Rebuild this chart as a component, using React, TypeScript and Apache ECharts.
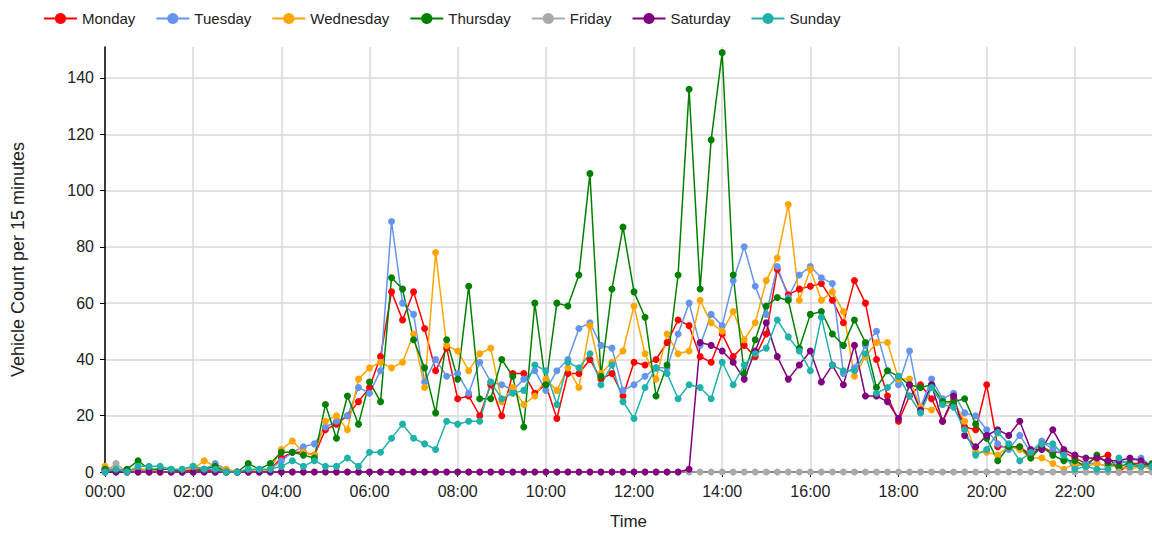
import React, { useEffect, useRef } from "react";
import * as echarts from "echarts";

const times = [
  "00:00","00:15","00:30","00:45","01:00","01:15","01:30","01:45",
  "02:00","02:15","02:30","02:45","03:00","03:15","03:30","03:45",
  "04:00","04:15","04:30","04:45","05:00","05:15","05:30","05:45",
  "06:00","06:15","06:30","06:45","07:00","07:15","07:30","07:45",
  "08:00","08:15","08:30","08:45","09:00","09:15","09:30","09:45",
  "10:00","10:15","10:30","10:45","11:00","11:15","11:30","11:45",
  "12:00","12:15","12:30","12:45","13:00","13:15","13:30","13:45",
  "14:00","14:15","14:30","14:45","15:00","15:15","15:30","15:45",
  "16:00","16:15","16:30","16:45","17:00","17:15","17:30","17:45",
  "18:00","18:15","18:30","18:45","19:00","19:15","19:30","19:45",
  "20:00","20:15","20:30","20:45","21:00","21:15","21:30","21:45",
  "22:00","22:15","22:30","22:45","23:00","23:15","23:30","23:45",
];

const monday = [
  1,1,0,1,0,0,0,0, 1,1,0,0,0,0,0,1,
  5,7,7,6,15,17,20,25, 30,41,64,54,64,51,36,44,
  26,27,20,31,20,35,35,28, 31,19,35,35,40,33,35,27,
  39,38,40,46,54,52,41,39, 49,41,45,41,49,72,63,65,
  66,67,61,53,68,60,40,27, 18,27,31,26,18,26,16,15,
  31,9,9,9,6,9,7,7, 5,3,5,6,0,3,3,2,
];
const tuesday = [
  1,1,1,0,1,0,0,1, 2,1,3,1,0,0,0,1,
  4,7,9,10,16,18,20,30, 28,36,89,60,56,32,40,34,
  35,28,39,32,31,29,33,36, 29,36,40,51,53,45,44,29,
  31,34,37,37,49,60,45,56, 52,68,80,66,56,73,62,70,
  73,69,67,35,37,45,50,36, 31,43,23,33,26,28,21,20,
  15,10,8,13,7,11,8,6, 2,3,3,2,3,4,5,2,
];
const wednesday = [
  2,1,0,1,1,0,0,1, 1,4,2,1,0,1,0,1,
  8,11,7,6,18,20,15,33, 37,39,37,39,49,30,78,45,
  43,36,42,44,25,30,24,27, 33,29,37,30,52,35,39,43,
  59,42,33,49,42,43,61,53, 50,57,47,53,68,76,95,61,
  72,61,64,57,34,41,46,46, 33,33,23,22,24,25,18,7,
  7,6,9,8,5,5,3,1, 3,2,3,2,2,1,2,1,
];
const thursday = [
  1,0,1,4,1,1,1,0, 0,1,2,0,0,3,1,3,
  7,7,6,5,24,12,27,17, 32,25,69,65,47,37,21,47,
  33,66,26,26,40,34,16,60, 31,60,59,70,106,34,65,87,
  64,55,27,38,70,136,65,118, 149,70,35,47,59,62,61,44,
  56,57,49,45,54,46,30,36, 34,31,30,31,25,25,26,17,
  12,4,9,9,5,9,6,4, 4,2,6,3,2,3,2,3,
];
const friday = [
  0,3,0,0,0,0,0,0, 0,0,0,0,0,0,0,0,
  0,0,0,0,0,0,0,0, 0,0,0,0,0,0,0,0,
  0,0,0,0,0,0,0,0, 0,0,0,0,0,0,0,0,
  0,0,0,0,0,0,0,0, 0,0,0,0,0,0,0,0,
  0,0,0,0,0,0,0,0, 0,0,0,0,0,0,0,0,
  0,0,0,0,0,0,0,0, 0,0,0,0,0,0,0,0,
];
const saturday = [
  0,0,0,0,0,0,0,0, 0,0,0,0,0,0,0,0,
  0,0,0,0,0,0,0,0, 0,0,0,0,0,0,0,0,
  0,0,0,0,0,0,0,0, 0,0,0,0,0,0,0,0,
  0,0,0,0,0,1,46,45, 43,39,33,43,53,41,33,38,
  43,32,38,31,45,27,27,25, 19,31,22,31,18,27,13,9,
  13,15,13,18,8,8,15,8, 6,5,5,4,4,5,4,2,
];
const sunday = [
  0,1,0,2,2,2,1,1, 2,1,1,0,0,1,1,1,
  2,4,2,4,2,2,5,2, 7,7,12,17,12,10,8,18,
  17,18,18,32,26,28,29,38, 36,24,39,37,42,31,38,25,
  19,30,37,35,26,31,30,26, 39,31,38,42,44,54,48,43,
  36,55,38,36,36,42,28,30, 34,27,21,30,24,23,15,6,
  8,14,10,4,7,10,10,6, 1,2,1,1,5,2,2,2,
];

const seriesNames = ["Monday","Tuesday","Wednesday","Thursday","Friday","Saturday","Sunday"];
const seriesData = [monday, tuesday, wednesday, thursday, friday, saturday, sunday];
const colors = ["#ff0000","#6495ed","#ffa500","#008000","#a9a9a9","#800080","#20b2aa"];

const FONT = "'Liberation Sans', Arial, sans-serif";

export default function App() {
  const ref = useRef<HTMLDivElement>(null);
  useEffect(() => {
    if (!ref.current) return;
    const chart = echarts.init(ref.current, undefined, { renderer: "svg" });
    chart.setOption({
      animation: false,
      color: colors,
      textStyle: { fontFamily: FONT },
      legend: {
        top: 11,
        left: 43,
        padding: 0,
        itemGap: 20,
        itemWidth: 33,
        itemHeight: 14,
        textStyle: { fontSize: 15, color: "#222", fontFamily: FONT },
        data: seriesNames,
      },
      grid: { left: 105, right: 0, top: 47, bottom: 58, containLabel: false },
      xAxis: {
        type: "category",
        data: times,
        boundaryGap: false,
        name: "Time",
        nameLocation: "middle",
        nameGap: 41,
        nameTextStyle: { fontSize: 17, color: "#222", fontFamily: FONT },
        axisLine: { lineStyle: { color: "#000", width: 1.5 } },
        axisTick: { interval: 7, length: 5, lineStyle: { color: "#000" } },
        axisLabel: { interval: 7, fontSize: 16, color: "#222", margin: 11, fontFamily: FONT },
        splitLine: { show: true, interval: 7, lineStyle: { color: "#d9d9d9", width: 1.5 } },
      },
      yAxis: {
        type: "value",
        min: 0,
        max: 151,
        interval: 20,
        name: "Vehicle Count per 15 minutes",
        nameLocation: "middle",
        nameGap: 78,
        nameTextStyle: { fontSize: 18, color: "#222", fontFamily: FONT },
        axisLine: { show: true, lineStyle: { color: "#000", width: 1.5 } },
        axisTick: { show: true, length: 5, lineStyle: { color: "#000" } },
        axisLabel: { fontSize: 16, color: "#222", margin: 11, showMaxLabel: false, fontFamily: FONT },
        splitLine: { show: true, showMaxLine: false, lineStyle: { color: "#d9d9d9", width: 1.5 } },
      },
      series: seriesNames.map((name, k) => ({
        name,
        type: "line",
        data: seriesData[k],
        symbol: "circle",
        symbolSize: 7,
        showSymbol: true,
        lineStyle: { width: 1.5, color: colors[k] },
        itemStyle: { color: colors[k] },
        clip: false,
      })),
    });
    return () => chart.dispose();
  }, []);
  return (
    <div
      ref={ref}
      style={{ position: "absolute", left: 0, top: 0, width: 1152, height: 535 }}
    />
  );
}
